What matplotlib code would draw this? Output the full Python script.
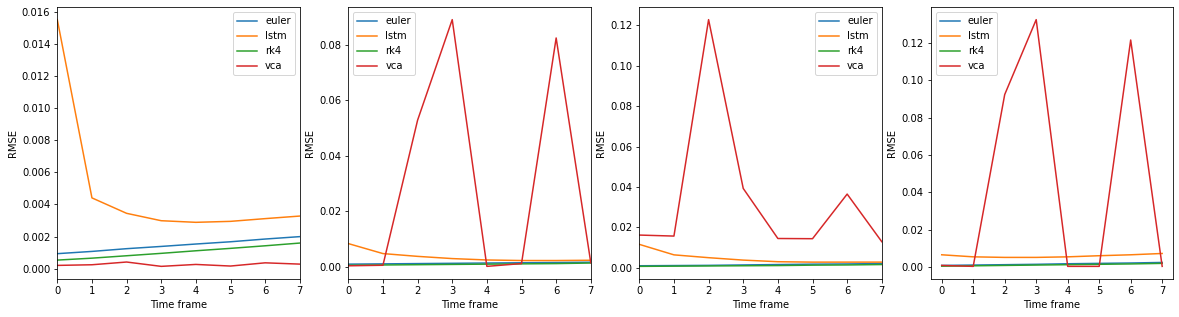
import matplotlib
matplotlib.use("Agg")
import matplotlib.pyplot as plt

frames = [0, 1, 2, 3, 4, 5, 6, 7]

# Panel 1
p1_euler = [0.00094, 0.00108, 0.00125, 0.00139, 0.00154, 0.00168, 0.00185, 0.00200]
p1_lstm = [0.0155, 0.00441, 0.00345, 0.00299, 0.00289, 0.00295, 0.00312, 0.00328]
p1_rk4 = [0.00054, 0.00066, 0.00081, 0.00096, 0.00112, 0.00127, 0.00143, 0.00160]
p1_vca = [0.00021, 0.00025, 0.00042, 0.00015, 0.00027, 0.00017, 0.00037, 0.00029]

# Panel 2
p2_euler = [0.0010, 0.0011, 0.0012, 0.0013, 0.0014, 0.0015, 0.0016, 0.0017]
p2_lstm = [0.0084, 0.0048, 0.0038, 0.0030, 0.0025, 0.0023, 0.0023, 0.0024]
p2_rk4 = [0.0006, 0.0007, 0.0008, 0.0009, 0.0010, 0.0011, 0.0012, 0.0014]
p2_vca = [0.0004, 0.0006, 0.0528, 0.0890, 0.0002, 0.0012, 0.0824, 0.0015]

# Panel 3
p3_euler = [0.0010, 0.0011, 0.0012, 0.0014, 0.0016, 0.0018, 0.0019, 0.0021]
p3_lstm = [0.0116, 0.0064, 0.0050, 0.0038, 0.0030, 0.0028, 0.0028, 0.0028]
p3_rk4 = [0.0007, 0.0008, 0.0009, 0.0010, 0.0011, 0.0013, 0.0014, 0.0016]
p3_vca = [0.0162, 0.0157, 0.1229, 0.0393, 0.0145, 0.0144, 0.0365, 0.0129]

# Panel 4
p4_euler = [0.0009, 0.0011, 0.0013, 0.0015, 0.0018, 0.0020, 0.0022, 0.0025]
p4_lstm = [0.0066, 0.0055, 0.0052, 0.0052, 0.0055, 0.0061, 0.0066, 0.0073]
p4_rk4 = [0.0005, 0.0007, 0.0009, 0.0011, 0.0013, 0.0015, 0.0017, 0.0020]
p4_vca = [0.0009, 0.0004, 0.0924, 0.1325, 0.0004, 0.0004, 0.1216, 0.0004]

panels = [
    (p1_euler, p1_lstm, p1_rk4, p1_vca),
    (p2_euler, p2_lstm, p2_rk4, p2_vca),
    (p3_euler, p3_lstm, p3_rk4, p3_vca),
    (p4_euler, p4_lstm, p4_rk4, p4_vca),
]
names = ["euler", "lstm", "rk4", "vca"]
legend_locs = ["upper right", "upper left", "upper right", "upper left"]
set_xlim = [True, True, True, False]

W, H = 1179, 317
fig = plt.figure(figsize=(W / 72, H / 72), dpi=72)
lefts = [57.3, 348.3, 639.3, 930.7]
width = 242.5
top, bottom = 7.3, 278.7

for i, series in enumerate(panels):
    ax = fig.add_axes([lefts[i] / W, (H - bottom) / H, width / W, (bottom - top) / H])
    for name, vals in zip(names, series):
        ax.plot(frames, vals, label=name)
    if set_xlim[i]:
        ax.set_xlim(0, 7)
    ax.set_xlabel("Time frame")
    ax.set_ylabel("RMSE")
    ax.legend(loc=legend_locs[i])

fig.savefig("out.png", dpi=72)
